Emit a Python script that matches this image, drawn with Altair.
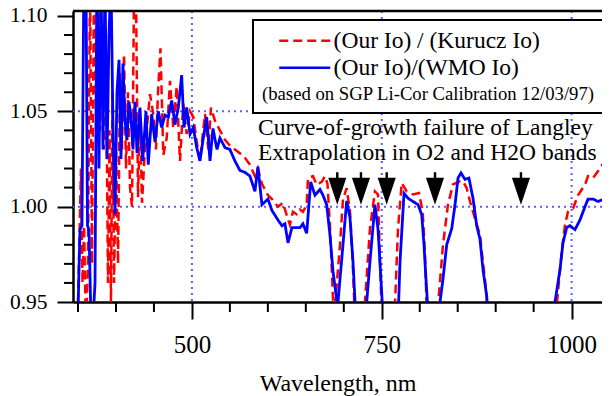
import altair as alt
import pandas as pd

FONT = "Liberation Serif"

# ---- data ----
series_names = ["(Our Io) / (Kurucz Io)", "(Our Io)/(WMO Io)"]
series_colors = ["#ff0000", "#0000ff"]
series_dash = [[9, 5], [1, 0]]

kur_nm = [350.0, 352.0, 353.9, 355.9, 357.9, 360.5, 363.1, 365.8, 368.4, 371.0,
          373.7, 376.3, 379.0, 381.6, 384.2, 386.9, 389.5, 391.5, 393.4, 395.4,
          397.4, 400.0, 402.7, 405.3, 407.9, 410.6, 413.2, 415.8, 418.5, 421.1,
          423.7, 426.4, 429.0, 431.6, 434.3, 438.2, 444.8, 449.1, 452.7, 455.3,
          458.6, 462.3, 466.8, 471.1, 475.5, 479.9, 484.3, 488.6, 493.1, 497.5,
          501.8, 506.3, 510.6, 517.2, 521.6, 525.1, 530.4, 536.9, 543.5, 550.0,
          556.6, 563.2, 569.8, 576.4, 583.0, 586.9, 592.2, 600.1, 605.4, 613.3,
          619.8, 624.6, 629.0, 633.0, 637.9, 642.2, 646.2, 651.1, 652.8, 659.4,
          664.3, 670.9, 675.2, 678.5, 681.8, 685.8, 688.4, 695.0, 698.9, 703.8,
          708.2, 711.7, 714.7, 717.4, 723.9, 727.9, 734.4, 741.0, 745.0, 747.7,
          750.3, 763.5, 767.5, 771.4, 776.2, 782.8, 791.1, 799.0, 803.9, 806.9,
          809.6, 818.8, 824.0, 830.6, 837.2, 843.8, 853.0, 857.0, 861.8, 866.2,
          872.7, 879.3, 883.3, 888.2, 891.2, 971.5, 980.3, 986.9, 991.3, 995.2,
          1001.8, 1008.4, 1017.6, 1021.6, 1028.2, 1037.4, 1046.2, 1050.6]
kur_val = [0.950, 0.985, 1.020, 0.960, 0.990, 0.935, 0.970, 1.120, 0.970, 1.120,
           1.050, 1.120, 1.040, 1.090, 1.030, 1.080, 0.960, 1.040, 0.950, 1.060,
           0.960, 1.030, 0.970, 1.070, 1.030, 1.080, 1.020, 1.060, 1.010, 1.000,
           1.110, 1.110, 1.005, 1.045, 1.002, 1.031, 1.059, 1.0486, 1.030, 1.060,
           1.083, 1.027, 1.036, 1.066, 1.041, 1.063, 1.024, 1.054, 1.038, 1.050,
           1.047, 1.034, 1.024, 1.0486, 1.030, 1.052, 1.045, 1.040, 1.035, 1.032,
           1.030, 1.028, 1.0256, 1.022, 1.016, 1.020, 1.012, 1.006, 1.004, 1.000,
           1.002, 0.9958, 0.9905, 0.9973, 0.996, 0.9985, 0.9973, 1.001, 1.015, 1.016,
           1.0115, 1.013, 1.016, 1.012, 0.990, 0.951, 0.948, 0.9799, 1.004, 1.0097,
           0.9973, 0.971, 0.940, 0.920, 0.920, 0.950, 0.9885, 1.008, 1.0064, 0.9708,
           0.940, 0.920, 0.950, 0.9885, 1.0124, 1.008, 1.0064, 1.0071, 0.9973, 0.975,
           0.940, 0.920, 0.948, 0.9799, 1.0011, 1.0117, 1.0133, 1.0133, 1.0097, 1.0027,
           0.9938, 0.9852, 0.9708, 0.9533, 0.930, 0.920, 0.948, 0.976, 0.9905, 0.9973,
           0.999, 1.006, 1.0115, 1.016, 1.015, 1.020, 1.0256, 1.029]

wmo_nm = [350.0, 352.6, 355.2, 357.9, 360.5, 362.5, 364.5, 367.1, 369.7, 372.4,
          375.0, 377.6, 380.3, 382.9, 385.5, 388.2, 390.8, 393.4, 396.1, 398.7,
          401.3, 404.0, 406.6, 409.2, 411.9, 414.5, 417.1, 419.8, 422.4, 425.0,
          427.7, 431.6, 435.2, 439.5, 442.5, 447.0, 451.4, 455.7, 460.2, 464.5,
          468.9, 473.4, 477.7, 482.1, 486.5, 489.6, 493.1, 497.5, 501.8, 506.3,
          510.6, 515.0, 519.5, 523.8, 527.7, 533.0, 536.9, 543.5, 550.0, 556.6,
          563.2, 569.8, 576.4, 583.0, 586.9, 592.2, 600.1, 605.4, 613.3, 618.6,
          622.5, 626.5, 631.7, 637.0, 642.2, 646.2, 651.1, 656.4, 662.0, 668.6,
          672.6, 677.5, 681.8, 685.8, 690.6, 692.4, 698.9, 703.8, 708.2, 712.1,
          716.1, 718.7, 726.6, 729.2, 734.4, 741.0, 745.0, 749.9, 753.0, 767.5,
          771.4, 774.0, 779.3, 784.5, 791.1, 797.7, 802.6, 805.6, 808.2, 810.9,
          814.8, 821.4, 826.7, 830.6, 835.5, 842.1, 846.5, 850.4, 854.3, 859.6,
          864.8, 870.1, 875.0, 879.3, 883.3, 888.2, 891.2, 971.5, 978.1, 984.7,
          988.6, 993.5, 997.8, 1004.4, 1011.0, 1017.6, 1021.6, 1028.2, 1034.8, 1041.0,
          1046.2, 1050.6]
wmo_val = [0.945, 0.988, 0.990, 1.130, 1.120, 0.990, 0.988, 0.940, 0.940, 0.960,
           1.130, 1.020, 1.120, 1.030, 1.120, 1.025, 1.090, 1.120, 1.040, 0.996,
           1.060, 1.077, 1.025, 1.075, 1.045, 1.035, 1.055, 1.047, 1.030, 1.055,
           1.028, 1.052, 1.024, 1.050, 1.022, 1.0486, 1.034, 1.050, 1.0415, 1.048,
           1.047, 1.0557, 1.043, 1.052, 1.069, 1.0415, 1.052, 1.038, 1.0415, 1.031,
           1.024, 1.036, 1.047, 1.024, 1.041, 1.030, 1.036, 1.031, 1.030, 1.024,
           1.019, 1.018, 1.016, 1.008, 1.021, 1.001, 1.004, 0.998, 0.993, 0.990,
           0.991, 0.981, 0.989, 0.989, 0.989, 0.991, 0.986, 1.013, 1.006, 1.009,
           1.006, 1.001, 0.985, 0.966, 0.951, 0.950, 0.980, 1.003, 0.994, 0.971,
           0.940, 0.920, 0.920, 0.945, 0.971, 1.001, 0.9885, 0.955, 0.930, 0.920,
           0.940, 0.971, 1.007, 1.0044, 1.0027, 1.0011, 0.9958, 0.980, 0.962, 0.945,
           0.920, 0.920, 0.950, 0.962, 0.980, 0.9885, 1.0011, 1.015, 1.0177, 1.0143,
           1.015, 1.0044, 0.990, 0.983, 0.967, 0.953, 0.930, 0.920, 0.950, 0.967,
           0.981, 0.989, 0.990, 0.988, 0.993, 1.000, 1.004, 1.004, 1.0027, 1.0037,
           1.008, 1.012]

band_nm = [691.4, 722.6, 756.5, 820.1, 933.3]
band_val = [1.001, 1.001, 1.001, 1.001, 1.001]

grid_x = [500, 750, 1000]
grid_y = [1.00, 1.05]

note_nm = [587.0, 587.0]
note_val = [1.0374, 1.0243]
note_text = ["Curve-of-growth failure of Langley", "Extrapolation in O2 and H2O bands"]

x_major = [500, 750, 1000]
x_minor = [350, 400, 450, 550, 600, 650, 700, 800, 850, 900, 950]
y_major = [0.95, 1.00, 1.05, 1.10]
y_minor = [0.96, 0.97, 0.98, 0.99, 1.01, 1.02, 1.03, 1.04,
           1.06, 1.07, 1.08, 1.09]

# ---- tables ----
kur = pd.DataFrame({"nm": kur_nm, "val": kur_val, "series": series_names[0]})
wmo = pd.DataFrame({"nm": wmo_nm, "val": wmo_val, "series": series_names[1]})
bands = pd.DataFrame({"nm": band_nm, "val": band_val})
gx = pd.DataFrame({"nm": grid_x})
gy = pd.DataFrame({"val": grid_y})
notes = pd.DataFrame({"nm": note_nm, "val": note_val, "text": note_text})
xmin_df = pd.DataFrame({"nm": x_minor})
ymin_df = pd.DataFrame({"val": y_minor})
one = pd.DataFrame({"k": [0]})

W, H = 529, 291
xscale = alt.Scale(domain=[343.4, 1040.0], nice=False, zero=False)
yscale = alt.Scale(domain=[0.95, 1.1026], nice=False, zero=False)

x_axis = alt.Axis(
    values=x_major, format="d", title="Wavelength, nm", tickSize=17,
    labelFontSize=25, titleFontSize=24, labelPadding=13, titlePadding=14,
)
y_axis = alt.Axis(
    values=y_major, format=".2f", title=None, tickSize=16,
    labelFontSize=21.5, labelPadding=10,
)


def X():
    return alt.X("nm:Q", scale=xscale, axis=x_axis)


def Y():
    return alt.Y("val:Q", scale=yscale, axis=y_axis)


legend = alt.Legend(
    title="(based on SGP Li-Cor Calibration 12/03/97)", titleOrient="bottom",
    orient="none", legendX=180, legendY=9, direction="vertical",
    symbolType="M-2.5,0L2.5,0", symbolSize=416, symbolStrokeWidth=2.5,
    symbolOffset=31, labelOffset=17.1,
    labelFont=FONT, labelFontSize=23.5, labelLimit=600, labelColor="black",
    titleFont=FONT, titleFontSize=18.7, titleFontWeight="normal", titleLimit=600,
    titleColor="black", titlePadding=6, rowPadding=2, padding=9,
    fillColor="white", strokeColor="black",
)
color = alt.Color("series:N", scale=alt.Scale(domain=series_names, range=series_colors), legend=legend)
dash = alt.StrokeDash("series:N", scale=alt.Scale(domain=series_names, range=series_dash), legend=legend)

grid_v = alt.Chart(gx).mark_rule(color="#5c5cff", strokeWidth=2, strokeDash=[2, 4]).encode(x=X())
grid_h = alt.Chart(gy).mark_rule(color="#5c5cff", strokeWidth=2, strokeDash=[2, 4]).encode(y=Y())

# minor ticks (outside the plot area) and the top frame line
xminor = alt.Chart(xmin_df).mark_rule(color="black", strokeWidth=2, clip=False).encode(
    x=X(), y=alt.value(H), y2=alt.value(H + 10))
yminor = alt.Chart(ymin_df).mark_rule(color="black", strokeWidth=2, clip=False).encode(
    y=Y(), x=alt.value(0), x2=alt.value(-9))
topline = alt.Chart(one).mark_rule(color="black", strokeWidth=2.5).encode(
    x=alt.value(0), x2=alt.value(W), y=alt.value(0))

red = alt.Chart(kur).mark_line(strokeWidth=2.5, clip=True).encode(
    x=X(), y=Y(), color=color, strokeDash=dash)
blue = alt.Chart(wmo).mark_line(strokeWidth=2.8, clip=True).encode(
    x=X(), y=Y(), color=color, strokeDash=dash)

arrow = "M0,0L-0.67,-2L-0.09,-2L-0.09,-2.4L0.09,-2.4L0.09,-2L0.67,-2Z"
tri = alt.Chart(bands).mark_point(shape=arrow, size=729, filled=True, color="black", opacity=1).encode(
    x=X(), y=Y())

txt = alt.Chart(notes).mark_text(align="left", baseline="alphabetic", font=FONT, fontSize=23.5, color="black").encode(
    x=X(), y=Y(), text="text:N")

chart = alt.layer(grid_v, grid_h, red, blue, tri, txt, xminor, yminor, topline).properties(
    width=W, height=H,
    autosize=alt.AutoSizeParams(type="none"),
    padding={"left": 65, "top": 3, "right": 0, "bottom": 94},
    background="white",
).configure_view(stroke=None).configure_axis(
    domainColor="black", domainWidth=2.5, tickColor="black", tickWidth=2,
    labelColor="black", titleColor="black", labelFont=FONT, titleFont=FONT,
    titleFontWeight="normal", grid=False,
).configure_legend(strokeWidth=2)

chart.save("out.html", embed_options={"renderer": "svg", "actions": False})
